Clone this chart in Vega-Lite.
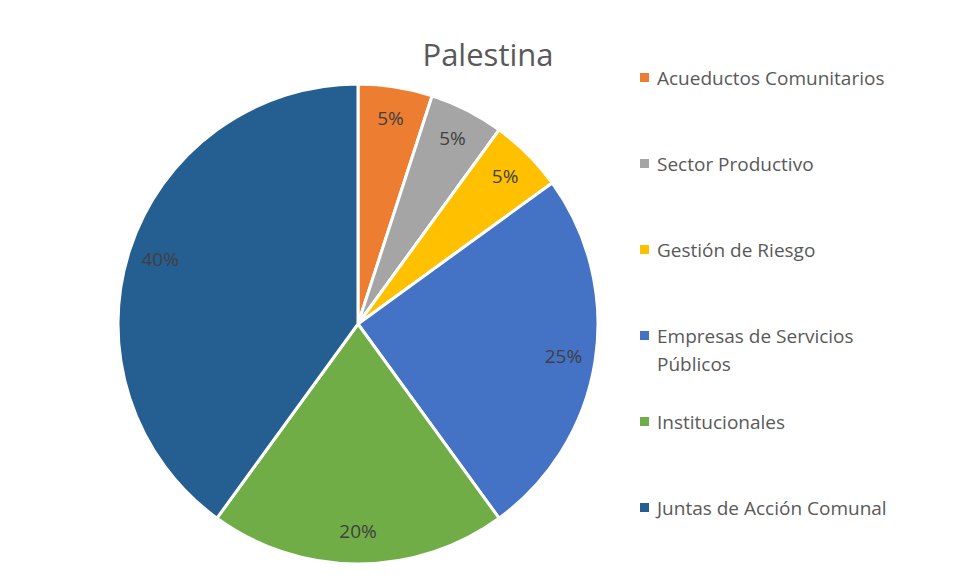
{
  "$schema": "https://vega.github.io/schema/vega-lite/v6.json",
  "width": 480,
  "height": 480,
  "autosize": "none",
  "padding": {"left": 118, "top": 84, "right": 358, "bottom": 16},
  "background": "white",
  "view": {"stroke": null},
  "config": {"style": {"guide-label": {"lineHeight": 28.5, "dy": -8}}},
  "title": {
    "text": "Palestina",
    "font": "Open Sans",
    "fontSize": 31,
    "fontWeight": "normal",
    "color": "#595959",
    "anchor": "middle",
    "baseline": "alphabetic",
    "dx": 130,
    "offset": -29
  },
  "data": {
    "values": [
      {"order": 1, "category": "Acueductos Comunitarios", "share": 0.05},
      {"order": 2, "category": "Sector Productivo", "share": 0.05},
      {"order": 3, "category": "Gestión de Riesgo", "share": 0.05},
      {"order": 4, "category": "Empresas de Servicios Públicos", "share": 0.25},
      {"order": 5, "category": "Institucionales", "share": 0.20},
      {"order": 6, "category": "Juntas de Acción Comunal", "share": 0.40}
    ]
  },
  "encoding": {
    "theta": {"field": "share", "type": "quantitative", "stack": true},
    "order": {"field": "order", "type": "quantitative"},
    "color": {
      "field": "category",
      "type": "nominal",
      "scale": {
        "domain": ["Acueductos Comunitarios", "Sector Productivo", "Gestión de Riesgo", "Empresas de Servicios Públicos", "Institucionales", "Juntas de Acción Comunal"],
        "range": ["#ED7D31", "#A5A5A5", "#FFC000", "#4472C4", "#70AD47", "#255E91"]
      },
      "legend": {
        "orient": "none",
        "legendX": 517,
        "legendY": -16,
        "padding": 0,
        "title": null,
        "symbolType": "square",
        "symbolSize": 81,
        "symbolStrokeWidth": 0,
        "labelFont": "Open Sans",
        "labelFontSize": 19,
        "labelColor": "#595959",
        "labelOffset": 3,
        "labelLimit": 400,
        "labelBaseline": "top",
        "gridAlign": "all",
        "rowPadding": 37,
        "labelExpr": "datum.label == 'Empresas de Servicios Públicos' ? ['Empresas de Servicios', 'Públicos'] : datum.label",
        "encode": {"labels": {"update": {"lineHeight": {"value": 28.5}, "dy": {"value": -8}}}}
      }
    }
  },
  "layer": [
    {
      "mark": {"type": "arc", "outerRadius": 240, "stroke": "white", "strokeWidth": 3}
    },
    {
      "mark": {"type": "text", "radius": 208, "font": "Open Sans", "fontSize": 19, "color": "#404040"},
      "encoding": {
        "text": {"field": "share", "type": "quantitative", "format": ".0%"},
        "color": {"value": "#404040"}
      }
    }
  ]
}
